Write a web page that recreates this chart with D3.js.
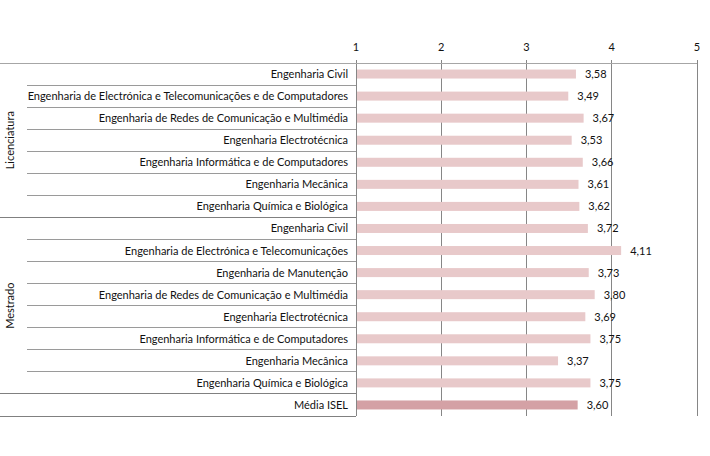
<!DOCTYPE html>
<html><head><meta charset="utf-8">
<script src="https://cdn.jsdelivr.net/npm/d3@7"></script>
<style>body{margin:0;background:#fff}text{font-family:Lato,"Open Sans",sans-serif;fill:#111}</style>
</head><body><svg id="c" width="710" height="456"></svg>
<script>
const groups = ["Licenciatura","Licenciatura","Licenciatura","Licenciatura","Licenciatura","Licenciatura","Licenciatura",
 "Mestrado","Mestrado","Mestrado","Mestrado","Mestrado","Mestrado","Mestrado","Mestrado","Média"];
const categories = ["Engenharia Civil","Engenharia de Electrónica e Telecomunicações e de Computadores","Engenharia de Redes de Comunicação e Multimédia","Engenharia Electrotécnica","Engenharia Informática e de Computadores","Engenharia Mecânica","Engenharia Química e Biológica",
 "Engenharia Civil","Engenharia de Electrónica e Telecomunicações","Engenharia de Manutenção","Engenharia de Redes de Comunicação e Multimédia","Engenharia Electrotécnica","Engenharia Informática e de Computadores","Engenharia Mecânica","Engenharia Química e Biológica","Média ISEL"];
const values = [3.58,3.49,3.67,3.53,3.66,3.61,3.62,3.72,4.11,3.73,3.80,3.69,3.75,3.37,3.75,3.60];
const tickValues = [1,2,3,4,5];

const svg = d3.select("#c");
const pL = 356, pR = 697, pT = 63, pB = 416;
const x = d3.scaleLinear().domain([1,5]).range([pL,pR]);
const idx = d3.range(categories.length);
const y = d3.scaleBand().domain(idx).range([pT,pB]);
const lineCol = "#868686";

// gridlines
svg.append("g").selectAll("line").data(tickValues).join("line")
 .attr("x1",d=>x(d)).attr("x2",d=>x(d)).attr("y1",pT-3).attr("y2",pB)
 .attr("stroke",lineCol).attr("stroke-width",1).attr("shape-rendering","crispEdges");
// top axis line
svg.append("line").attr("x1",0).attr("x2",pR).attr("y1",pT).attr("y2",pT)
 .attr("stroke","#a6a6a6").attr("shape-rendering","crispEdges");
// tick labels
svg.append("g").selectAll("text").data(tickValues).join("text")
 .attr("x",d=>x(d)).attr("y",51).attr("text-anchor","middle").attr("font-size",11).text(d=>d);

// row separators
const rowLines = idx.slice(1);
svg.append("g").selectAll("line").data(rowLines).join("line")
 .attr("x1",d=>groups[d]!==groups[d-1]?0:27).attr("x2",pL)
 .attr("y1",d=>y(d)).attr("y2",d=>y(d))
 .attr("stroke",d=>groups[d]!==groups[d-1]?"#808080":"#9a9a9a").attr("shape-rendering","crispEdges");
svg.append("line").attr("x1",0).attr("x2",pL).attr("y1",pB).attr("y2",pB)
 .attr("stroke","#808080").attr("shape-rendering","crispEdges");

// group labels
const grpNames = ["Licenciatura","Mestrado"];
grpNames.forEach(g=>{
  const rows = idx.filter(i=>groups[i]===g);
  const cy = (y(rows[0]) + y(rows[rows.length-1]) + y.bandwidth())/2;
  svg.append("text").attr("transform",`translate(14,${cy}) rotate(-90)`)
   .attr("text-anchor","middle").attr("font-size",11).text(g);
});

// category labels
svg.append("g").selectAll("text").data(idx).join("text")
 .attr("x",348).attr("y",i=>y(i)+y.bandwidth()/2+4).attr("text-anchor","end")
 .attr("font-size",11).text(i=>categories[i]);

// bars
const bh = 9;
svg.append("g").selectAll("rect").data(idx).join("rect")
 .attr("x",x(1)+1).attr("y",i=>y(i)+y.bandwidth()/2-bh/2)
 .attr("width",i=>x(values[i])-x(1)-1).attr("height",bh)
 .attr("fill",i=>groups[i]==="Média"?"#d4a1a5":"#e8c9ca");

// value labels
svg.append("g").selectAll("text").data(idx).join("text")
 .attr("x",i=>x(values[i])+9).attr("y",i=>y(i)+y.bandwidth()/2+4)
 .attr("font-size",11).text(i=>values[i].toFixed(2).replace(".",","));
</script></body></html>
